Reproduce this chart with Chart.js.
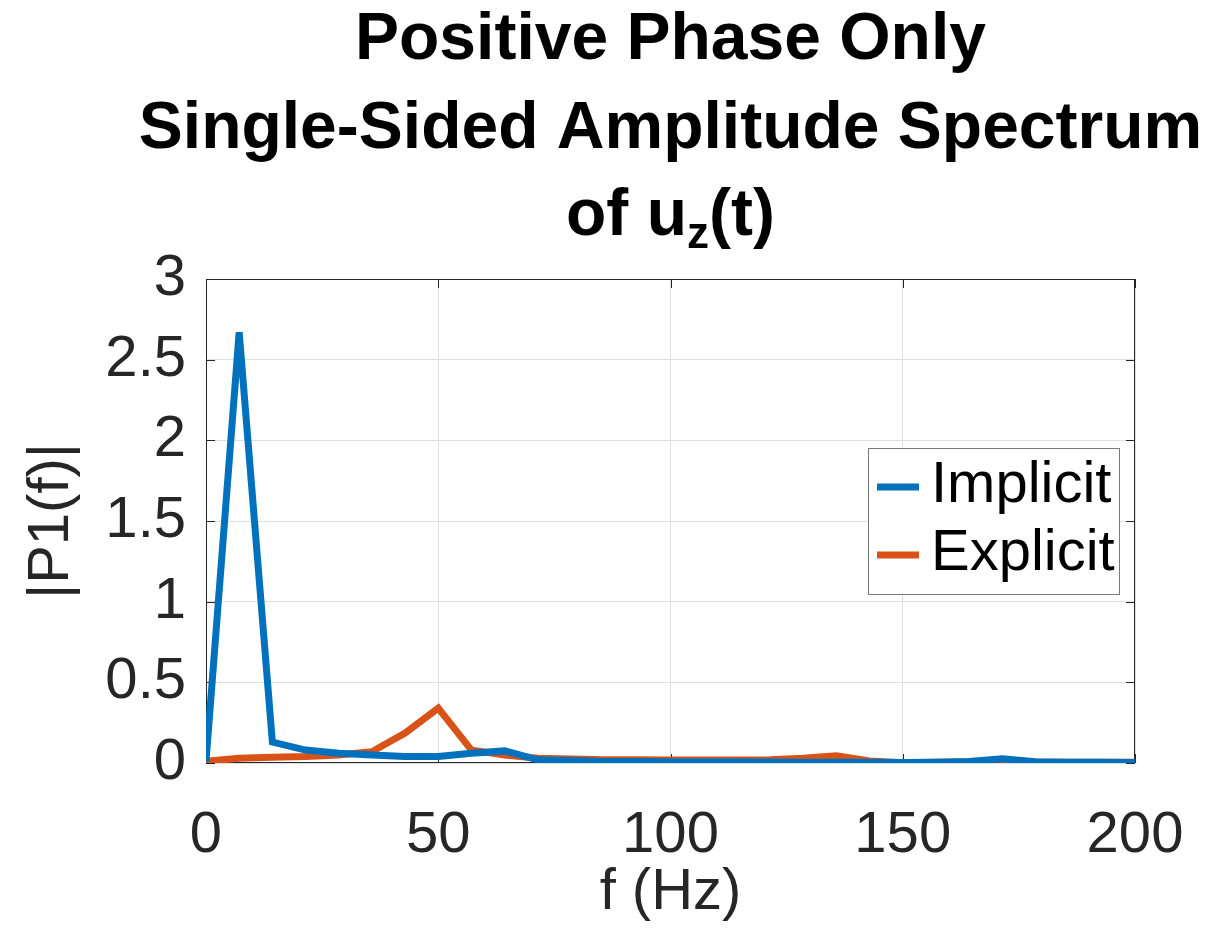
<!DOCTYPE html>
<html>
<head>
<meta charset="utf-8">
<script src="https://cdn.jsdelivr.net/npm/chart.js@4.4.1/dist/chart.umd.min.js"></script>
<style>
  body { margin: 0; background: #fff; }
  #wrap { width: 1211px; height: 928px; position: relative; }
</style>
</head>
<body>
<div id="wrap"><canvas id="myChart"></canvas></div>
<script>
// frequency bins (Hz)
var freqs = [0, 7.14, 14.29, 21.43, 28.57, 35.71, 42.86, 50, 57.14, 64.29, 71.43,
    78.57, 85.71, 92.86, 100, 107.14, 114.29, 121.43, 128.57, 135.71, 142.86,
    150, 157.14, 164.29, 171.43, 178.57, 185.71, 192.86, 200];

var implicitAmp = [0.01, 2.67, 0.13, 0.08, 0.06, 0.05, 0.04, 0.04, 0.06, 0.075, 0.02,
    0.015, 0.01, 0.01, 0.008, 0.008, 0.008, 0.006, 0.005, 0.005, 0.005,
    0.003, 0.005, 0.01, 0.026, 0.008, 0.005, 0.004, 0.003];

var explicitAmp = [0.01, 0.03, 0.035, 0.04, 0.05, 0.07, 0.185, 0.34, 0.08, 0.05, 0.03,
    0.025, 0.02, 0.02, 0.019, 0.018, 0.018, 0.02, 0.03, 0.045, 0.013,
    0.002, 0.005, 0.006, 0.006, 0.005, 0.005, 0.005, 0.005];

var seriesNames = ['Implicit', 'Explicit'];
var seriesColors = ['#0072BD', '#D95319'];
var xTickLabels = ['0', '50', '100', '150', '200'];
var yTickLabels = ['0', '0.5', '1', '1.5', '2', '2.5', '3'];
var titleLines = ['Positive Phase Only', 'Single-Sided Amplitude Spectrum'];

var FONT = '"Liberation Sans", Arial, Helvetica, sans-serif';
var AXIS_COLOR = '#262626';

function toPoints(ys) {
    return ys.map(function (y, i) { return { x: freqs[i], y: y }; });
}

// title with the subscript z, drawn in the top padding
var titlePlugin = {
    id: 'matlabTitle',
    afterDraw: function (chart) {
        var ctx = chart.ctx;
        var ca = chart.chartArea;
        var cx = (ca.left + ca.right) / 2;
        ctx.save();
        ctx.fillStyle = '#000';
        ctx.textBaseline = 'alphabetic';
        ctx.textAlign = 'center';
        ctx.font = 'bold 66px ' + FONT;
        ctx.fillText(titleLines[0], cx, 59);
        ctx.fillText(titleLines[1], cx, 148);

        // third line: "of u" + subscript "z" + "(t)"
        var big = 'bold 66px ' + FONT, small = 'bold 44px ' + FONT;
        ctx.font = big;
        var w1 = ctx.measureText('of u').width;
        var w3 = ctx.measureText('(t)').width;
        ctx.font = small;
        var w2 = ctx.measureText('z').width;
        var x = cx - (w1 + w2 + w3) / 2;
        ctx.textAlign = 'left';
        ctx.font = big;
        ctx.fillText('of u', x, 235);
        ctx.font = small;
        ctx.fillText('z', x + w1, 248);
        ctx.font = big;
        ctx.fillText('(t)', x + w1 + w2, 235);
        ctx.restore();
    }
};

// box around the axes with inward ticks on all sides
var boxPlugin = {
    id: 'matlabBox',
    beforeDatasetsDraw: function (chart) {
        var ctx = chart.ctx;
        var ca = chart.chartArea;
        var xs = chart.scales.x, ys = chart.scales.y;
        var tl = 9;
        ctx.save();
        ctx.strokeStyle = AXIS_COLOR;
        ctx.lineWidth = 1;
        ctx.strokeRect(ca.left + 0.5, ca.top + 0.5, ca.right - ca.left - 1, ca.bottom - ca.top - 1);
        ctx.beginPath();
        xs.ticks.forEach(function (t) {
            var px = Math.round(xs.getPixelForValue(t.value)) + 0.5;
            ctx.moveTo(px, ca.bottom); ctx.lineTo(px, ca.bottom - tl);
            ctx.moveTo(px, ca.top); ctx.lineTo(px, ca.top + tl);
        });
        ys.ticks.forEach(function (t) {
            var py = Math.round(ys.getPixelForValue(t.value)) + 0.5;
            ctx.moveTo(ca.left, py); ctx.lineTo(ca.left + tl, py);
            ctx.moveTo(ca.right, py); ctx.lineTo(ca.right - tl, py);
        });
        ctx.stroke();
        ctx.restore();
    }
};

// legend box inside the axes
var legendPlugin = {
    id: 'matlabLegend',
    afterDatasetsDraw: function (chart) {
        var ctx = chart.ctx;
        var bx = 868, by = 448, bw = 251, bh = 146;
        ctx.save();
        ctx.fillStyle = '#fff';
        ctx.fillRect(bx, by, bw, bh);
        ctx.strokeStyle = '#7a7a7a';
        ctx.lineWidth = 1;
        ctx.strokeRect(bx + 0.5, by + 0.5, bw, bh);
        ctx.font = '58px ' + FONT;
        ctx.textBaseline = 'alphabetic';
        ctx.textAlign = 'left';
        chart.data.datasets.forEach(function (ds, i) {
            var ly = 487 + i * 68;
            ctx.strokeStyle = ds.borderColor;
            ctx.lineWidth = 7;
            ctx.beginPath();
            ctx.moveTo(877, ly);
            ctx.lineTo(919, ly);
            ctx.stroke();
            ctx.fillStyle = '#000';
            ctx.fillText(ds.label, 931, ly + 15);
        });
        ctx.restore();
    }
};

var ctx = document.getElementById('myChart').getContext('2d');
var myChart = new Chart(ctx, {
    type: 'line',
    data: {
        datasets: [{
            label: seriesNames[0],
            data: toPoints(implicitAmp),
            borderColor: seriesColors[0],
            borderWidth: 7,
            pointRadius: 0,
            tension: 0,
            fill: false
        }, {
            label: seriesNames[1],
            data: toPoints(explicitAmp),
            borderColor: seriesColors[1],
            borderWidth: 7,
            pointRadius: 0,
            tension: 0,
            fill: false
        }]
    },
    options: {
        responsive: true,
        maintainAspectRatio: false,
        animation: false,
        layout: {
            padding: { top: 279, right: 76, bottom: 0, left: 0 }
        },
        plugins: {
            legend: { display: false },
            tooltip: { enabled: false },
            title: { display: false }
        },
        scales: {
            x: {
                type: 'linear',
                min: 0,
                max: 200,
                afterFit: function (scale) {
                    scale.height = 165;
                    scale.paddingLeft = 0;
                    scale.paddingRight = 0;
                },
                afterBuildTicks: function (scale) {
                    scale.ticks = xTickLabels.map(function (s) { return { value: parseFloat(s) }; });
                },
                ticks: {
                    color: AXIS_COLOR,
                    font: { family: FONT, size: 58 },
                    padding: 38,
                    maxRotation: 0,
                    callback: function (value, index) { return xTickLabels[index]; }
                },
                grid: { color: '#dfdfdf', drawTicks: false },
                border: { display: false },
                title: {
                    display: true,
                    text: 'f (Hz)',
                    color: AXIS_COLOR,
                    font: { family: FONT, size: 58 },
                    padding: { top: 0, bottom: 0 }
                }
            },
            y: {
                min: 0,
                max: 3,
                afterFit: function (scale) {
                    scale.width = 206;
                    scale.paddingTop = 0;
                    scale.paddingBottom = 0;
                },
                afterBuildTicks: function (scale) {
                    scale.ticks = yTickLabels.map(function (s) { return { value: parseFloat(s) }; });
                },
                ticks: {
                    color: AXIS_COLOR,
                    font: { family: FONT, size: 58 },
                    padding: 20,
                    callback: function (value, index) { return yTickLabels[index]; }
                },
                grid: { color: '#dfdfdf', drawTicks: false },
                border: { display: false },
                title: {
                    display: true,
                    text: '|P1(f)|',
                    color: AXIS_COLOR,
                    font: { family: FONT, size: 58 },
                    padding: { top: 17, bottom: 0 }
                }
            }
        }
    },
    plugins: [boxPlugin, legendPlugin, titlePlugin]
});
</script>
</body>
</html>
